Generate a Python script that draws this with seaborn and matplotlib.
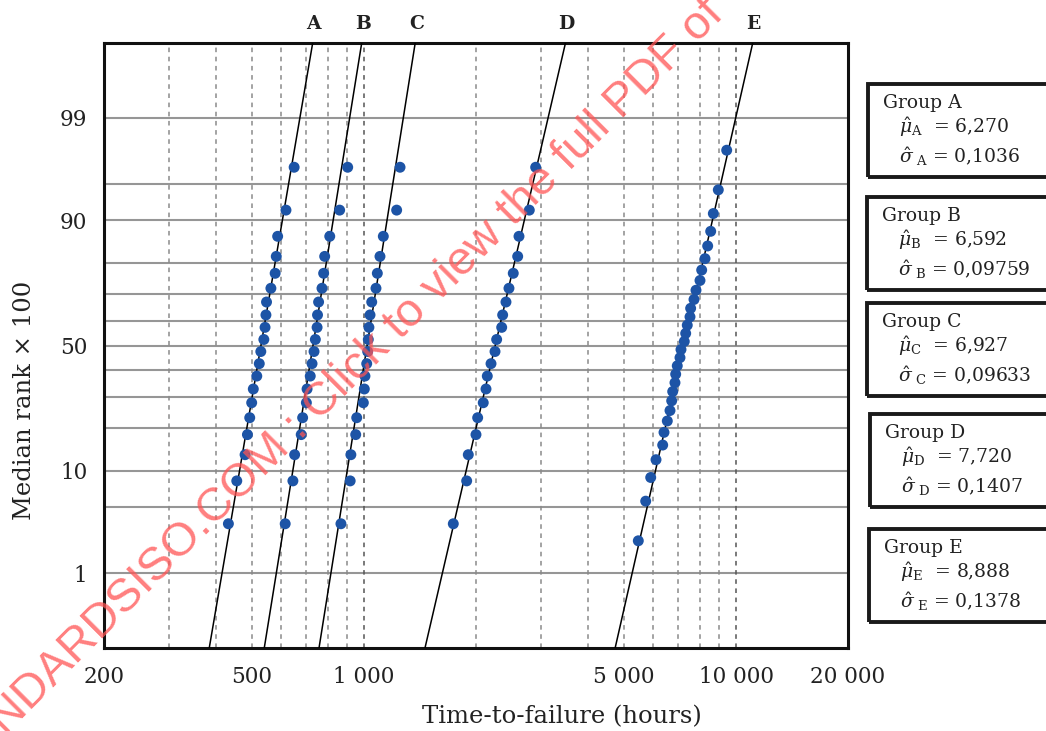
import matplotlib
matplotlib.use('Agg')
import numpy as np
import pandas as pd
import matplotlib.pyplot as plt
import seaborn as sns
from matplotlib.patches import Rectangle
from matplotlib.ticker import FixedLocator, NullLocator
from statistics import NormalDist

# ======================
# 1. DATA (times, hours)
# ======================
times_a = [432, 455, 479, 486, 493, 499, 504, 515, 523, 528,
           538, 542, 545, 547, 562, 577, 581, 586, 617, 649]
times_b = [614, 644, 651, 678, 684, 700, 703, 717, 725, 734,
           740, 748, 750, 755, 771, 779, 784, 809, 860, 904]
times_c = [867, 918, 922, 950, 956, 996, 1002, 1006, 1017, 1023,
           1027, 1031, 1038, 1049, 1077, 1086, 1104, 1127, 1224, 1250]
times_d = [1738, 1888, 1907, 2000, 2021, 2092, 2128, 2145, 2195, 2250,
           2273, 2345, 2359, 2408, 2453, 2519, 2589, 2610, 2782, 2894]
times_e = [5462, 5718, 5898, 6095, 6352, 6404, 6536, 6646, 6716, 6758,
           6854, 6884, 6952, 7070, 7114, 7260, 7324, 7396, 7522, 7552,
           7710, 7806, 8002, 8086, 8254, 8392, 8550, 8690, 8962, 9440]

groups = ['A', 'B', 'C', 'D', 'E']
mu_hat = [6.270, 6.592, 6.927, 7.720, 8.888]
sigma_hat = [0.1036, 0.09759, 0.09633, 0.1407, 0.1378]
mu_text = ['6,270', '6,592', '6,927', '7,720', '8,888']
sigma_text = ['0,1036', '0,09759', '0,09633', '0,1407', '0,1378']

x_ticks = [200, 500, 1000, 5000, 10000, 20000]
x_ticklabels = ['200', '500', '1 000', '5 000', '10 000', '20 000']
x_grid = [300, 400, 500, 600, 700, 800, 900, 1000,
          2000, 3000, 4000, 5000, 6000, 7000, 8000, 9000, 10000]
y_ticks = [1, 10, 50, 90, 99]
y_grid = [1, 5, 10, 20, 30, 40, 50, 60, 70, 80, 90, 95, 99]

# ======================
# 2. BUILD TABLES
# ======================
nd = NormalDist()
all_times = [times_a, times_b, times_c, times_d, times_e]

rows = []
for g, tt in zip(groups, all_times):
    n = len(tt)
    for i, t in enumerate(sorted(tt), start=1):
        # Bernard's median rank approximation
        rows.append({'group': g, 'time': t, 'rank': (i - 0.3) / (n + 0.4) * 100})
pts = pd.DataFrame(rows)

y_lo, y_hi = 0.1, 99.9
fit_rows = []
for g, m, s in zip(groups, mu_hat, sigma_hat):
    for p in (y_lo, y_hi):
        fit_rows.append({'group': g, 'rank': p,
                         'time': np.exp(m + s * nd.inv_cdf(p / 100))})
fit = pd.DataFrame(fit_rows)

_ppf = np.vectorize(nd.inv_cdf, otypes=[float])
_cdf = np.vectorize(nd.cdf, otypes=[float])


def prob_fwd(p):
    p = np.clip(np.asarray(p, dtype=float), 1e-9, 100 - 1e-9) / 100
    return _ppf(p)


def prob_inv(z):
    return _cdf(np.asarray(z, dtype=float)) * 100


# ======================
# 3. PLOT
# ======================
sns.set_theme(style='white')
plt.rcParams['font.family'] = ['DejaVu Serif']
plt.rcParams['mathtext.fontset'] = 'dejavuserif'

fig = plt.figure(figsize=(10.46, 7.31), dpi=100)
ax = fig.add_axes([0.0994, 0.1135, 0.7113, 0.8277])
ax.set_xscale('log')
ax.set_yscale('function', functions=(prob_fwd, prob_inv))
ax.set_xlim(200, 20000)
ax.set_ylim(y_lo, y_hi)

for v in y_grid:
    ax.axhline(v, color='#969696', lw=1.5, zorder=1)
for v in x_grid:
    dark = v in (1000, 10000)
    ax.axvline(v, color='#555555' if dark else '#8a8a8a', lw=1.1,
               ls=(0, (3, 3)), zorder=1)

sns.lineplot(data=fit, x='time', y='rank', units='group', estimator=None,
             sort=False, color='black', lw=1.1, ax=ax, zorder=3)
sns.scatterplot(data=pts, x='time', y='rank', color='#1d54a6', s=62,
                edgecolor='none', ax=ax, zorder=4, legend=False)
ax.set_xlim(200, 20000)
ax.set_ylim(y_lo, y_hi)

ax.xaxis.set_major_locator(FixedLocator(x_ticks))
ax.set_xticklabels(x_ticklabels)
ax.xaxis.set_minor_locator(NullLocator())
ax.yaxis.set_major_locator(FixedLocator(y_ticks))
ax.set_yticklabels([str(v) for v in y_ticks])
ax.yaxis.set_minor_locator(NullLocator())
ax.tick_params(axis='both', length=0, labelsize=15.5, colors='#222222')
ax.tick_params(axis='x', pad=13)
ax.tick_params(axis='y', pad=12)

ax.set_xlabel('Time-to-failure (hours)', fontsize=17.5, color='#222222')
ax.set_ylabel('Median rank × 100', fontsize=17.5, color='#222222')
ax.xaxis.set_label_coords(0.616, -0.094)
ax.yaxis.set_label_coords(-0.091, 0.41)

for side in ['left', 'bottom', 'top', 'right']:
    ax.spines[side].set_color('#111111')
    ax.spines[side].set_linewidth(2.2)

# group letters at the top end of each fitted line
for g, m, s in zip(groups, mu_hat, sigma_hat):
    t_top = np.exp(m + s * nd.inv_cdf(y_hi / 100))
    ax.annotate(g, xy=(t_top, y_hi), xytext=(1, 19), textcoords='offset pixels',
                ha='center', va='center', fontsize=13.5, fontweight='bold',
                color='#222222', annotation_clip=False)

# parameter boxes on the right
W, H = 1046, 731
box_tops = [84, 197, 303, 414, 529]
box_left = [868, 867, 867, 870, 869]
for g, top, left, mt, st in zip(groups, box_tops, box_left, mu_text, sigma_text):
    fig.patches.append(Rectangle((left / W, 1 - (top + 93) / H), (1060 - left) / W, 93 / H,
                                 transform=fig.transFigure, fill=False,
                                 edgecolor='#1a1a1a', lw=2.8, clip_on=False))
    fig.text((left + 15) / W, 1 - (top + 19) / H, f'Group {g}',
             fontsize=13.5, va='center', color='#222222')
    fig.text((left + 31) / W, 1 - (top + 43) / H,
             r'$\hat{\mu}_{\mathrm{' + g + r'}}$  = ' + mt,
             fontsize=13.5, va='center', color='#222222')
    fig.text((left + 31) / W, 1 - (top + 73) / H,
             r'$\hat{\sigma}_{\ \mathrm{' + g + r'}}$ = ' + st,
             fontsize=13.5, va='center', color='#222222')

# watermark (runs off the lower-left corner, as in the source)
fig.text(-0.0547, -0.0915, 'STANDARDSISO.COM : Click to view the full PDF of',
         rotation=45, rotation_mode='anchor', ha='left', va='baseline',
         fontsize=34, family='Liberation Sans', color=(1.0, 0.33, 0.33, 0.75))

fig.savefig('out.png', dpi=100)
plt.close(fig)
